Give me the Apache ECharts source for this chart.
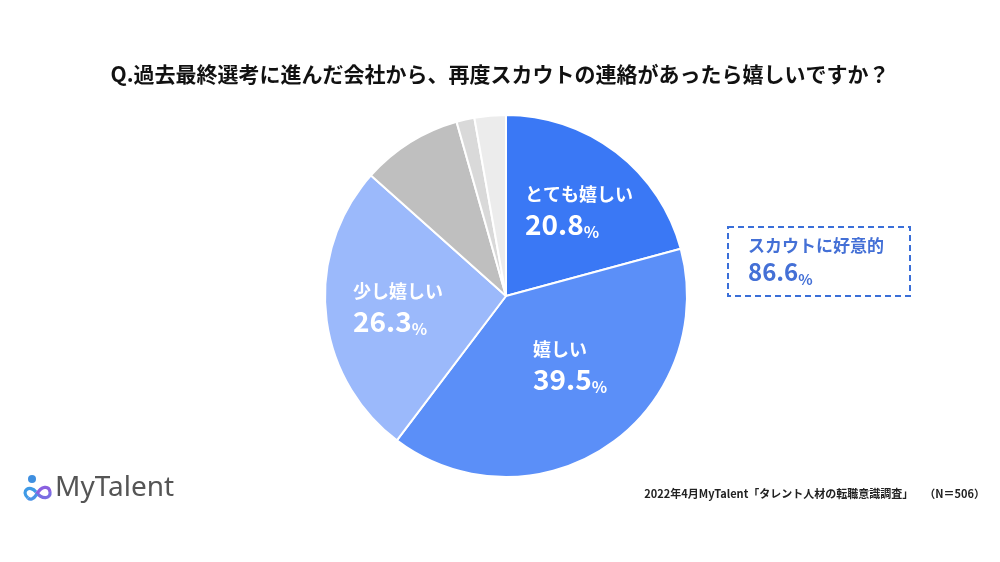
<!DOCTYPE html>
<html><head><meta charset="utf-8">
<script src="https://cdn.jsdelivr.net/npm/echarts@6/dist/echarts.min.js"></script>
<style>html,body{margin:0;padding:0;background:#fff}#c{width:1000px;height:562px}</style>
</head><body><div id="c"></div>
<script>
const categories = ['とても嬉しい', '嬉しい', '少し嬉しい', 'あまり嬉しくない', '嬉しくない', 'まったく嬉しくない'];
const values = [20.8, 39.5, 26.3, 9.0, 1.6, 2.8];
const colors = ['#3a78f5', '#5b8ff8', '#9bb9fb', '#bfbfbf', '#d9d9d9', '#ececec'];
const showLabel = [true, true, true, false, false, false];
const titleText = 'Q.過去最終選考に進んだ会社から、再度スカウトの連絡があったら嬉しいですか？';
const summaryLabel = 'スカウトに好意的';
const summaryValue = '86.6';
const sourceText = '2022年4月MyTalent「タレント人材の転職意識調査」　　（N＝506）';

const FONT = '"Noto Sans CJK JP", "Noto Sans", sans-serif';
const labelPos = { 0: [525, 181], 1: [533, 336], 2: [353, 278] };

const logoStroke = { fill: 'none', lineWidth: 3.2 };

const chart = echarts.init(document.getElementById('c'));
chart.setOption({
  backgroundColor: '#ffffff',
  animation: false,
  title: {
    text: titleText, left: 'center', top: 59,
    textStyle: { fontFamily: FONT, fontSize: 21, fontWeight: 'bold', color: '#111' }
  },
  series: [{
    type: 'pie',
    center: [506, 296],
    radius: [0, 181],
    startAngle: 90,
    clockwise: true,
    itemStyle: { borderColor: '#ffffff', borderWidth: 2 },
    label: {
      position: 'inside',
      fontFamily: FONT,
      formatter: p => '{n|' + p.name + '}\n{v|' + p.value + '}{p|%}',
      rich: {
        n: { fontFamily: FONT, fontSize: 18, fontWeight: 'bold', color: '#fff', lineHeight: 27 },
        v: { fontFamily: FONT, fontSize: 28, fontWeight: 'bold', color: '#fff', lineHeight: 32 },
        p: { fontFamily: FONT, fontSize: 16, fontWeight: 'bold', color: '#fff', lineHeight: 32, verticalAlign: 'bottom' }
      }
    },
    labelLayout: p => labelPos[p.dataIndex] ? { x: labelPos[p.dataIndex][0], y: labelPos[p.dataIndex][1], align: 'left', verticalAlign: 'top' } : {},
    labelLine: { show: false },
    emphasis: { disabled: true },
    data: categories.map((c, i) => ({
      name: c, value: values[i],
      itemStyle: { color: colors[i] },
      label: { show: showLabel[i] }
    }))
  }],
  graphic: [
    { type: 'rect', shape: { x: 728, y: 227, width: 182, height: 69 },
      style: { fill: 'none', stroke: '#3a6fd8', lineWidth: 2, lineDash: [6, 4] } },
    { type: 'text', x: 748, y: 237,
      style: { text: summaryLabel, font: 'bold 17px ' + FONT, fill: '#4470d6' } },
    { type: 'text', x: 748, y: 257,
      style: { text: '{v|' + summaryValue + '}{p|%}', rich: {
        v: { fontFamily: FONT, fontSize: 24, fontWeight: 'bold', fill: '#4470d6', lineHeight: 30 },
        p: { fontFamily: FONT, fontSize: 15, fontWeight: 'bold', fill: '#4470d6', lineHeight: 30, verticalAlign: 'bottom' } } } },
    { type: 'text', x: 985, y: 488,
      style: { text: sourceText, font: 'bold 11px ' + FONT, fill: '#222', align: 'right' } },
    { type: 'circle', shape: { cx: 32, cy: 479, r: 4 }, style: { fill: '#3f8fe0' } },
    { type: 'bezierCurve', shape: { x1: 28, y1: 498, cpx1: 20, cpy1: 491, cpx2: 30, cpy2: 484, x2: 36, y2: 492 }, style: Object.assign({}, logoStroke, { stroke: '#3f9ae6' }) },
    { type: 'bezierCurve', shape: { x1: 36, y1: 492, cpx1: 42, cpy1: 500, cpx2: 51, cpy2: 499, x2: 50, y2: 492 }, style: Object.assign({}, logoStroke, { stroke: '#7a6ee2' }) },
    { type: 'bezierCurve', shape: { x1: 50, y1: 492, cpx1: 49, cpy1: 485, cpx2: 41, cpy2: 486, x2: 37, y2: 494 }, style: Object.assign({}, logoStroke, { stroke: '#8a60e0' }) },
    { type: 'bezierCurve', shape: { x1: 37, y1: 494, cpx1: 33, cpy1: 500, cpx2: 30, cpy2: 500, x2: 28, y2: 498 }, style: Object.assign({}, logoStroke, { stroke: '#4a92e6' }) },
    { type: 'text', x: 55, y: 474,
      style: { text: 'MyTalent', font: '28px "Noto Sans", sans-serif', fill: '#555' } }
  ]
});
</script></body></html>
